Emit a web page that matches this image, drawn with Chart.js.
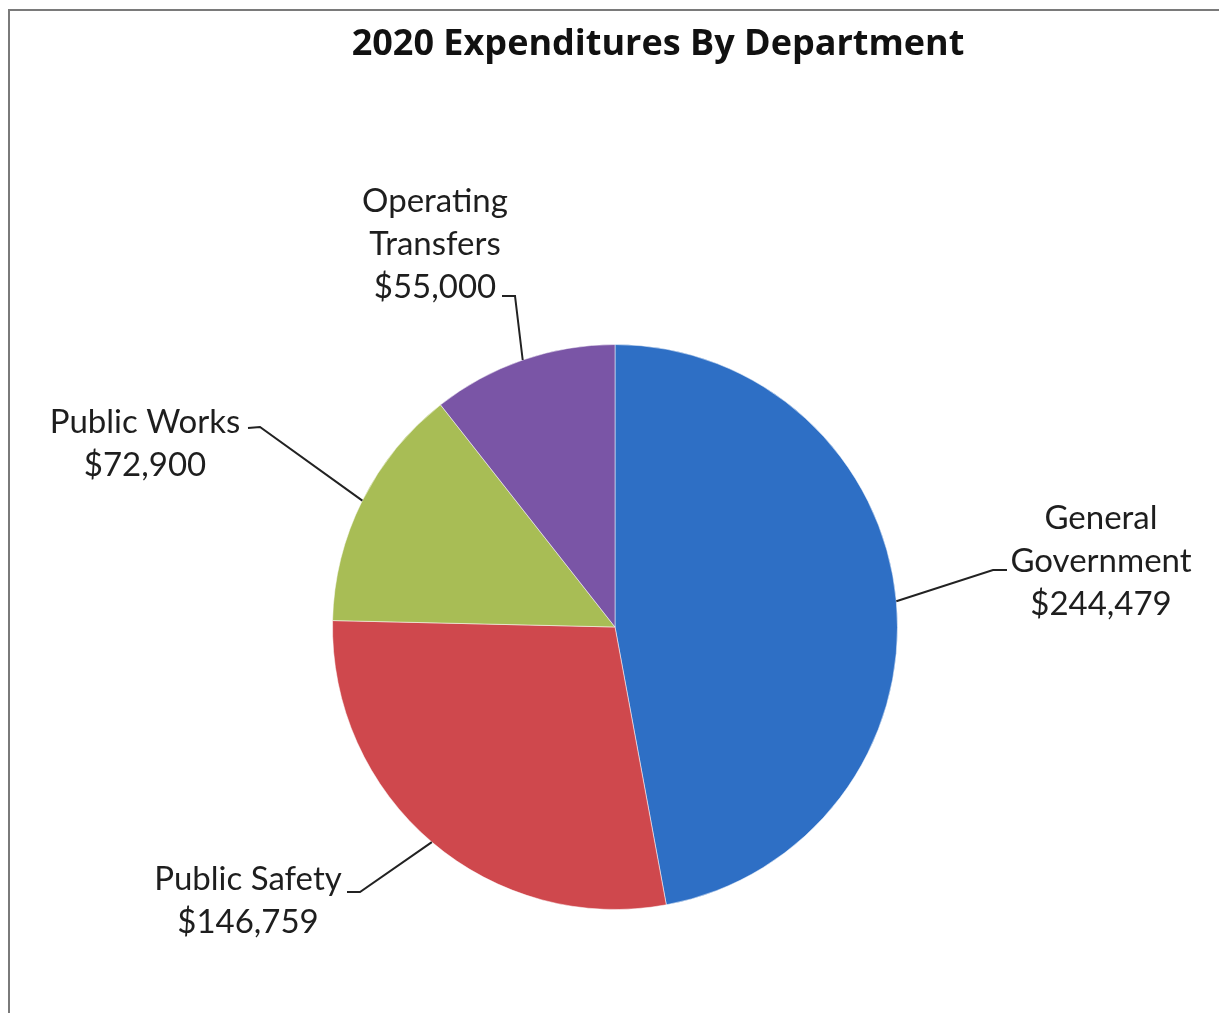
<!DOCTYPE html>
<html>
<head>
<meta charset="utf-8">
<script src="https://cdn.jsdelivr.net/npm/chart.js@4.4.1/dist/chart.umd.min.js"></script>
<style>
  html, body { margin: 0; padding: 0; background: #fff; }
  #wrap { position: relative; width: 1219px; height: 1013px; }
</style>
</head>
<body>
<div id="wrap"><canvas id="gastos"></canvas></div>
<script>
// === Datos ===
const departamentos = [['General', 'Government'], ['Public Safety'], ['Public Works'], ['Operating', 'Transfers']];
const montos = [244479, 146759, 72900, 55000];
const colores = ['#2e6fc5', '#cf484d', '#a8bd55', '#7a55a6'];
const titulo = '2020 Expenditures By Department';

const fmt = v => '$' + v.toLocaleString('en-US');

// posición de cada etiqueta (centro x, primera línea base y) y codo de la línea guía
const etiquetas = [
  { x: 1101, y: 529, codo: [[1007, 570], [993, 570]] },
  { x: 248, y: 890, codo: [[347, 892], [360, 892]] },
  { x: 145, y: 433, codo: [[248, 428], [260, 427]] },
  { x: 435, y: 212, codo: [[502, 296], [515, 296]] }
];

const marco = {
  id: 'marco',
  beforeDraw(chart) {
    const ctx = chart.ctx;
    ctx.save();
    ctx.fillStyle = '#fff';
    ctx.fillRect(0, 0, chart.width, chart.height);
    ctx.strokeStyle = '#7a7a7a';
    ctx.lineWidth = 2;
    ctx.beginPath();
    ctx.moveTo(9, chart.height);
    ctx.lineTo(9, 10);
    ctx.lineTo(chart.width, 10);
    ctx.stroke();
    ctx.restore();
  }
};

const rotulos = {
  id: 'rotulos',
  afterDatasetsDraw(chart) {
    const ctx = chart.ctx;
    const arcs = chart.getDatasetMeta(0).data;
    ctx.save();
    // título
    ctx.fillStyle = '#111';
    ctx.textAlign = 'center';
    ctx.textBaseline = 'alphabetic';
    ctx.font = 'bold 33px "Open Sans"';
    const w = ctx.measureText(titulo).width;
    ctx.font = 'bold ' + (33 * 613 / w).toFixed(1) + 'px "Open Sans"';
    ctx.fillText(titulo, 658, 55);

    ctx.font = '33px Lato';
    ctx.fillStyle = '#1e1e1e';
    arcs.forEach((arc, i) => {
      const e = etiquetas[i];
      const lineas = departamentos[i].concat([fmt(montos[i])]);
      lineas.forEach((t, k) => ctx.fillText(t, e.x, e.y + k * 43));
      // línea guía hasta el punto medio del borde del sector
      const p = arc.getProps(['x', 'y', 'startAngle', 'endAngle', 'outerRadius'], true);
      const a = (p.startAngle + p.endAngle) / 2;
      const px = p.x + Math.cos(a) * p.outerRadius;
      const py = p.y + Math.sin(a) * p.outerRadius;
      ctx.strokeStyle = '#222';
      ctx.lineWidth = 2;
      ctx.beginPath();
      ctx.moveTo(e.codo[0][0], e.codo[0][1]);
      ctx.lineTo(e.codo[1][0], e.codo[1][1]);
      ctx.lineTo(px, py);
      ctx.stroke();
    });
    ctx.restore();
  }
};

new Chart(document.getElementById('gastos'), {
  type: 'pie',
  data: {
    labels: departamentos.map(d => d.join(' ')),
    datasets: [{
      data: montos,
      backgroundColor: colores,
      borderColor: 'rgba(255,255,255,0.5)',
      borderWidth: 1
    }]
  },
  options: {
    responsive: true,
    maintainAspectRatio: false,
    animation: false,
    layout: { padding: { top: 344, bottom: 103, left: 332, right: 321 } },
    plugins: {
      legend: { display: false },
      tooltip: { enabled: false },
      title: { display: false }
    }
  },
  plugins: [marco, rotulos]
});
</script>
</body>
</html>
